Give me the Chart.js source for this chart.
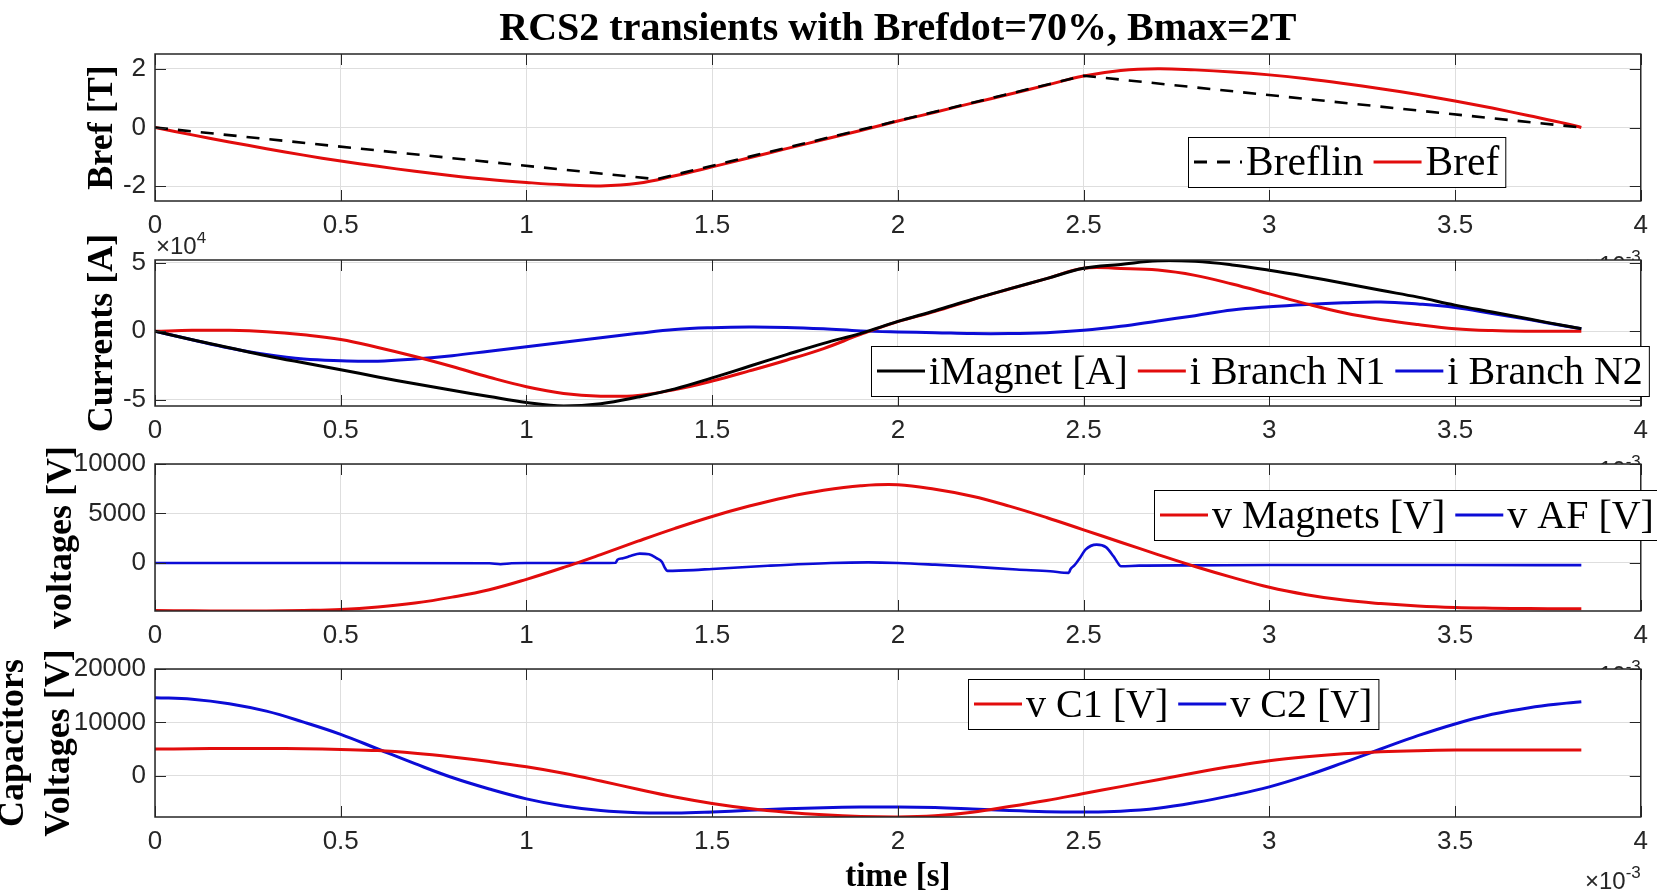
<!DOCTYPE html>
<html>
<head>
<meta charset="utf-8">
<title>RCS2 transients</title>
<script src="https://cdn.jsdelivr.net/npm/chart.js@4.4.1/dist/chart.umd.min.js"></script>
<style>
  html, body { margin: 0; padding: 0; background: #fff; }
  #wrap { position: relative; width: 1657px; height: 893px; overflow: hidden; }
  #wrap canvas { position: absolute; left: 0; }
</style>
</head>
<body>
<div id="wrap">
  <canvas id="c1" width="1657" height="280" style="top:0px"></canvas>
  <canvas id="c2" width="1657" height="260" style="top:232px"></canvas>
  <canvas id="c3" width="1657" height="260" style="top:436px"></canvas>
  <canvas id="c4" width="1657" height="252" style="top:641px"></canvas>
</div>
<script>
// ── Data (time in ms, i.e. x 10^-3 s) ─────────────────────────
const timeMs = [0, 0.1, 0.2, 0.3, 0.4, 0.5, 0.6, 0.7, 0.8, 0.9, 1.0, 1.1, 1.2, 1.3, 1.4, 1.5, 1.6, 1.7, 1.8, 1.9,
                2.0, 2.1, 2.2, 2.3, 2.4, 2.5, 2.6, 2.7, 2.8, 2.9, 3.0, 3.1, 3.2, 3.3, 3.4, 3.5, 3.6, 3.7, 3.8, 3.84];

const breflinT = [0, 1.35, 2.5, 3.84];
const breflin  = [0, -1.76, 1.76, 0];
const bref = [0, -0.25, -0.49, -0.72, -0.94, -1.14, -1.32, -1.49, -1.64, -1.77, -1.87, -1.95, -1.99, -1.9, -1.64,
              -1.34, -1.03, -0.72, -0.41, -0.1, 0.22, 0.52, 0.83, 1.13, 1.44, 1.75, 1.94, 2.0, 1.96, 1.89,
              1.79, 1.66, 1.5, 1.32, 1.12, 0.9, 0.66, 0.4, 0.13, 0];

const iMagnet = [0, -6200, -12000, -17800, -23000, -28000, -33300, -38300, -43000, -47600, -51900, -54500, -52800,
                 -48000, -42000, -34000, -25500, -17000, -8800, -1500, 7200, 15000, 23200, 30900, 38400, 46000,
                 48800, 51400, 51000, 48400, 44500, 40000, 35100, 29900, 24900, 19100, 14000, 8900, 3800, 1900];
const iBranchN1 = [0, 700, 700, -300, -2600, -6000, -11800, -18400, -25700, -33500, -40400, -45300, -47300, -46800,
                   -42500, -36300, -28900, -21100, -12600, -2300, 7000, 14500, 23000, 30800, 38400, 46000, 45800,
                   44700, 40800, 34500, 27300, 20000, 13500, 8600, 4900, 1900, 500, 0, 0, 0];
const iBranchN2 = [0, -6200, -12200, -17000, -20300, -21500, -21800, -20200, -17800, -14500, -11200, -8000, -4700,
                   -1500, 1300, 2600, 3100, 2800, 1800, 300, -500, -1000, -1700, -1700, -1000, 700, 3600, 7500,
                   11400, 15500, 17900, 19600, 20800, 21400, 19900, 17400, 13000, 8500, 3700, 1900];

const vMagnets = [-4800, -4830, -4850, -4850, -4800, -4700, -4450, -4050, -3450, -2700, -1650, -450, 850, 2200,
                  3500, 4700, 5750, 6650, 7350, 7800, 7900, 7450, 6750, 5750, 4600, 3350, 2100, 850, -350, -1450,
                  -2450, -3200, -3750, -4100, -4350, -4500, -4570, -4610, -4630, -4630];
const vAFT = [0, 0.5, 0.9, 0.93, 0.96, 1.0, 1.2, 1.24, 1.245, 1.26, 1.28, 1.305, 1.33, 1.35, 1.365, 1.372, 1.38,
              1.45, 1.5, 1.65, 1.82, 1.92, 2.0, 2.1, 2.2, 2.32, 2.41, 2.46, 2.465, 2.475, 2.49, 2.505, 2.535,
              2.56, 2.58, 2.595, 2.6, 2.65, 2.8, 3.0, 3.5, 3.84];
const vAF  = [0, 0, -30, -120, -30, 0, 0, 20, 330, 480, 700, 950, 880, 500, 100, -450, -800,
              -720, -600, -280, 0, 60, 0, -170, -370, -660, -840, -1000, -600, -250, 500, 1350, 1860,
              1600, 700, -150, -330, -270, -240, -200, -200, -220];

const vC1 = [4980, 5050, 5100, 5100, 5050, 4920, 4700, 4200, 3500, 2650, 1660, 450, -1000, -2550, -4000, -5200,
             -6150, -6850, -7350, -7650, -7740, -7500, -6850, -5800, -4650, -3350, -2050, -750, 550, 1750, 2800,
             3550, 4100, 4480, 4690, 4790, 4800, 4800, 4790, 4790];
const vC2 = [14630, 14350, 13500, 12100, 10050, 7750, 5000, 2250, -350, -2500, -4350, -5700, -6550, -6950, -7000,
             -6800, -6500, -6200, -6000, -5880, -5860, -5980, -6250, -6550, -6750, -6800, -6650, -6100, -5050,
             -3700, -2100, 0, 2450, 5000, 7500, 9700, 11500, 12750, 13600, 13870];

const xTicks  = [0, 0.5, 1, 1.5, 2, 2.5, 3, 3.5, 4];
const yTicks1 = [-2, 0, 2];
const yTicks2 = [-50000, 0, 50000];
const yTicks3 = [0, 5000, 10000];
const yTicks4 = [0, 10000, 20000];

// ── Styles ────────────────────────────────────────────────────
const SANS  = '"Liberation Sans Narrow", "Liberation Sans", Arial, sans-serif';
const SERIF = '"Liberation Serif", "Times New Roman", serif';
const AXIS  = '#262626';
const GRID  = '#dedede';
const RED   = 'rgb(226,12,12)';
const BLUE  = 'rgb(12,12,214)';
const BLACK = '#000000';
const TICK  = 11;

function xy(xs, ys) { return xs.map((x, i) => ({ x, y: ys[i] })); }

function line(label, xs, ys, color, extra) {
  return Object.assign({
    label, data: xy(xs, ys), borderColor: color, borderWidth: 3,
    pointRadius: 0, tension: 0.4, fill: false
  }, extra || {});
}

function drawPow(ctx, x, y, exp, anchor) {
  ctx.font = `24px ${SANS}`;
  const wb = ctx.measureText('\u00d710').width;
  ctx.font = `17px ${SANS}`;
  const we = ctx.measureText(exp).width;
  const x0 = anchor === 'right' ? x - wb - we : x;
  ctx.fillStyle = AXIS;
  ctx.textAlign = 'left';
  ctx.textBaseline = 'alphabetic';
  ctx.font = `24px ${SANS}`;
  ctx.fillText('\u00d710', x0, y);
  ctx.font = `17px ${SANS}`;
  ctx.fillText(exp, x0 + wb, y - 11);
}

// ── Axes box, inward ticks, legend, exponents ────────────────
const frame = {
  id: 'frame',
  beforeDraw(chart) {
    const { ctx, chartArea: a } = chart;
    ctx.save();
    ctx.fillStyle = '#fff';
    ctx.fillRect(a.left, a.top, a.width, a.height);
    ctx.restore();
  },
  afterDatasetsDraw(chart) {
    const { ctx, chartArea: a, scales } = chart;
    ctx.save();
    ctx.strokeStyle = AXIS;
    ctx.lineWidth = 1;
    ctx.beginPath();
    scales.x.ticks.forEach(t => {
      const px = Math.round(scales.x.getPixelForValue(t.value)) + 0.5;
      ctx.moveTo(px, a.bottom); ctx.lineTo(px, a.bottom - TICK);
      ctx.moveTo(px, a.top);    ctx.lineTo(px, a.top + TICK);
    });
    scales.y.ticks.forEach(t => {
      const py = Math.round(scales.y.getPixelForValue(t.value)) + 0.5;
      ctx.moveTo(a.left, py);  ctx.lineTo(a.left + TICK, py);
      ctx.moveTo(a.right, py); ctx.lineTo(a.right - TICK, py);
    });
    ctx.stroke();
    ctx.lineWidth = 1.5;
    ctx.strokeRect(a.left, a.top, a.width, a.height);
    ctx.restore();
  },
  afterDraw(chart, args, opts) {
    const { ctx, chartArea: a } = chart;
    ctx.save();

    if (opts.title) {
      ctx.fillStyle = '#000';
      ctx.font = `bold 40px ${SERIF}`;
      ctx.textAlign = 'center';
      ctx.textBaseline = 'middle';
      ctx.fillText(opts.title, (a.left + a.right) / 2, 30);
    }

    // x 10^-3 under the time axis (hidden by the next axes for the upper panels)
    drawPow(ctx, a.right, a.bottom + 72, '-3', 'right');
    if (opts.yExp) drawPow(ctx, a.left + 1, a.top - 6, opts.yExp, 'left');

    // legend box inside the axes
    const L = opts.legend;
    if (L) {
      const PAD = 6, SAMPLE = 48, GAP = 4, ITEM = 10, H = 50;
      ctx.font = `${L.size || 40}px ${SERIF}`;
      const items = chart.data.datasets.map(ds => ({
        label: ds.label, color: ds.borderColor, dash: ds.borderDash || [],
        w: ctx.measureText(ds.label).width
      }));
      let W = PAD * 2 + ITEM * (items.length - 1);
      items.forEach(it => { W += SAMPLE + GAP + it.w; });
      const y0 = L.cy - H / 2;
      ctx.fillStyle = '#fff';
      ctx.fillRect(L.left, y0, W, H);
      ctx.strokeStyle = '#000';
      ctx.lineWidth = 1;
      ctx.strokeRect(L.left + 0.5, y0 + 0.5, W, H);
      let x = L.left + PAD;
      items.forEach(it => {
        ctx.beginPath();
        ctx.setLineDash(it.dash);
        ctx.strokeStyle = it.color;
        ctx.lineWidth = 3;
        ctx.moveTo(x, L.cy); ctx.lineTo(x + SAMPLE, L.cy);
        ctx.stroke();
        ctx.setLineDash([]);
        x += SAMPLE + GAP;
        ctx.fillStyle = '#000';
        ctx.textAlign = 'left';
        ctx.textBaseline = 'middle';
        ctx.fillText(it.label, x, L.cy + 2);
        x += it.w + ITEM;
      });
    }
    ctx.restore();
  }
};

function makePanel(id, cfg) {
  return new Chart(document.getElementById(id), {
    type: 'line',
    data: { datasets: cfg.datasets },
    options: {
      responsive: false,
      animation: false,
      events: [],
      layout: { padding: { top: cfg.padTop, right: 15, left: 0, bottom: 0 } },
      plugins: {
        legend: { display: false },
        tooltip: { enabled: false },
        title: { display: false },
        frame: cfg.frame
      },
      scales: {
        x: {
          type: 'linear', min: 0, max: 4,
          afterBuildTicks: s => { s.ticks = xTicks.map(v => ({ value: v })); },
          afterFit: s => { s.height = cfg.xHeight; },
          grid: { color: GRID, drawTicks: false },
          border: { display: false },
          ticks: { font: { family: SANS, size: 26 }, color: AXIS, padding: 9, maxRotation: 0, autoSkip: false,
                   callback: v => String(v) },
          title: cfg.xTitle || { display: false }
        },
        y: {
          type: 'linear', min: cfg.yMin, max: cfg.yMax,
          afterBuildTicks: s => { s.ticks = cfg.yTicks.map(v => ({ value: v })); },
          afterFit: s => { s.width = 155; },
          grid: { color: GRID, drawTicks: false },
          border: { display: false },
          ticks: { font: { family: SANS, size: 26 }, color: AXIS, padding: 9,
                   callback: cfg.yFmt || (v => String(v)) },
          title: {
            display: true, text: cfg.yTitle, color: '#000',
            font: { family: SERIF, size: 36, weight: 'bold', lineHeight: cfg.yLine || 1.2 },
            padding: { top: cfg.yTitlePad, bottom: 0 }
          }
        }
      }
    },
    plugins: [frame]
  });
}

// ── Panel 1: Bref ─────────────────────────────────────────────
makePanel('c1', {
  padTop: 54, xHeight: 79,
  yMin: -2.5, yMax: 2.5, yTicks: yTicks1,
  yTitle: 'Bref [T]', yTitlePad: 81,
  datasets: [
    line('Breflin', breflinT, breflin, BLACK, { borderDash: [13, 10], tension: 0, borderWidth: 2.6 }),
    line('Bref', timeMs, bref, RED)
  ],
  frame: { title: 'RCS2 transients with Brefdot=70%, Bmax=2T', legend: { left: 1188, cy: 162, size: 41.5 } }
});

// ── Panel 2: currents ─────────────────────────────────────────
makePanel('c2', {
  padTop: 28, xHeight: 86,
  yMin: -54500, yMax: 52000, yTicks: yTicks2, yFmt: v => String(v / 10000),
  yTitle: 'Currents [A]', yTitlePad: 81,
  datasets: [
    line('iMagnet [A]', timeMs, iMagnet, BLACK),
    line('i Branch N1', timeMs, iBranchN1, RED),
    line('i Branch N2', timeMs, iBranchN2, BLUE)
  ],
  frame: { yExp: '4', legend: { left: 871, cy: 371 - 232 } }
});

// ── Panel 3: magnet / AF voltages ─────────────────────────────
makePanel('c3', {
  padTop: 28, xHeight: 85,
  yMin: -4850, yMax: 10000, yTicks: yTicks3,
  yTitle: 'voltages [V]', yTitlePad: 40,
  datasets: [
    line('v Magnets [V]', timeMs, vMagnets, RED),
    line('v AF [V]', vAFT, vAF, BLUE, { borderWidth: 2.6, tension: 0, cubicInterpolationMode: 'monotone' })
  ],
  frame: { legend: { left: 1154, cy: 515 - 436 } }
});

// ── Panel 4: capacitor voltages ───────────────────────────────
makePanel('c4', {
  padTop: 28, xHeight: 76,
  yMin: -7750, yMax: 20000, yTicks: yTicks4,
  yTitle: ['Capacitors', 'Voltages [V]'], yTitlePad: -10, yLine: 1.3,
  xTitle: { display: true, text: 'time [s]', color: '#000',
            font: { family: SERIF, size: 33, weight: 'bold', lineHeight: 1 }, padding: { top: 0, bottom: -1 } },
  datasets: [
    line('v C1 [V]', timeMs, vC1, RED),
    line('v C2 [V]', timeMs, vC2, BLUE)
  ],
  frame: { legend: { left: 968, cy: 704 - 641 } }
});
</script>
</body>
</html>
